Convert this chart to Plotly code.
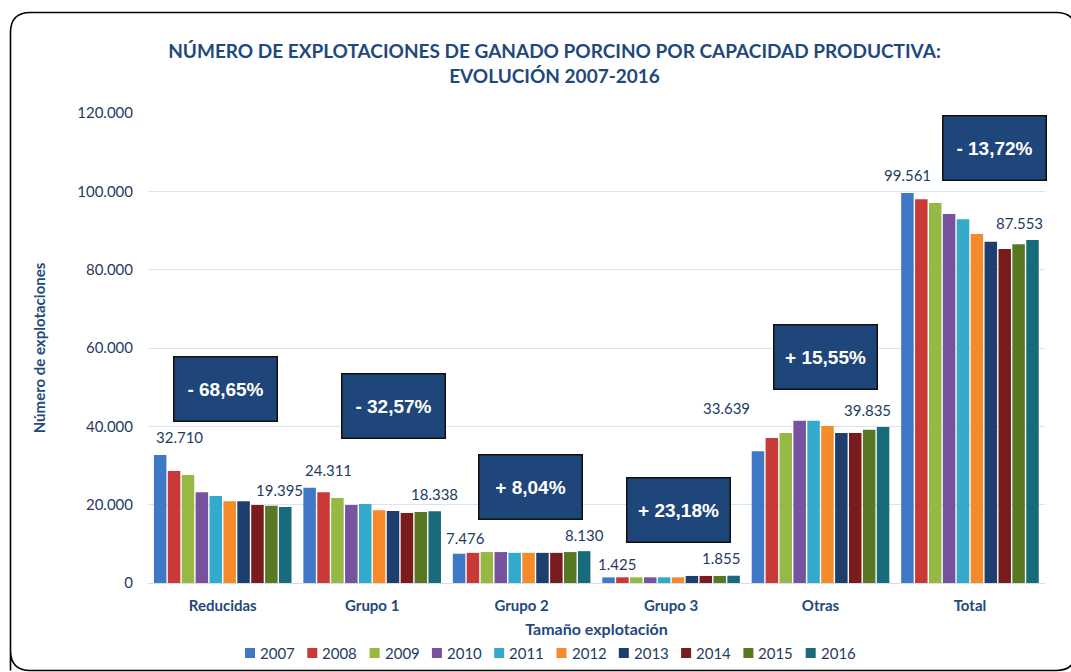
import plotly.graph_objects as go

categories = ["Reducidas", "Grupo 1", "Grupo 2", "Grupo 3", "Otras", "Total"]
years = ["2007", "2008", "2009", "2010", "2011", "2012", "2013", "2014", "2015", "2016"]

# values per year, in category order
v2007 = [32710, 24311, 7476, 1425, 33639, 99561]
v2008 = [28600, 23200, 7700, 1450, 37000, 98000]
v2009 = [27600, 21700, 7900, 1450, 38300, 97000]
v2010 = [23200, 19900, 7900, 1450, 41400, 94200]
v2011 = [22200, 20200, 7700, 1450, 41400, 92900]
v2012 = [20900, 18600, 7700, 1450, 40100, 89100]
v2013 = [20900, 18400, 7700, 1800, 38300, 87100]
v2014 = [19900, 17900, 7700, 1800, 38300, 85300]
v2015 = [19700, 18100, 7900, 1800, 39100, 86500]
v2016 = [19395, 18338, 8130, 1855, 39835, 87553]
series = [v2007, v2008, v2009, v2010, v2011, v2012, v2013, v2014, v2015, v2016]

changes = ["- 68,65%", "- 32,57%", "+ 8,04%", "+ 23,18%", "+ 15,55%", "- 13,72%"]

colors = ["#3E78C6", "#C93937", "#95B944", "#77539F", "#33AACB",
          "#F48A2A", "#1E3F6E", "#791C1D", "#587824", "#196B7B"]

TXT = "#1F3B63"
TITLE = "#1F497D"
FONT = "Lato"

L, R, T, B = 148, 1045, 113, 583
W, H = R - L, B - T


def px_x(px):
    return (px - L) / W


def px_y(py):
    return (B - py) / H


fig = go.Figure()
for y, vals, c in zip(years, series, colors):
    fig.add_trace(go.Bar(name=y, x=categories, y=vals, marker_color=c,
                         marker_line_width=0, showlegend=False))

bargap = 0.07
n = len(years)
slot = (1 - bargap) / n


def bar_x(gi, j):
    return gi - 0.5 + bargap / 2 + (j + 0.5) * slot


# first / last value labels (label pixel offsets relative to the bar)
first_off = [(19, 18), (19, 18), (6, 16), (8, 13), (-31, 43), (0, 18)]
last_off = [(-6, 17), (0, 17), (0, 16), (-13, 18), (-16, 17), (-13, 17)]
annotations = []
for gi in range(len(categories)):
    for j, off in ((0, first_off[gi]), (n - 1, last_off[gi])):
        v = series[j][gi]
        annotations.append(dict(
            x=bar_x(gi, j), y=v, xref="x", yref="y",
            text=f"{v:,}".replace(",", "."), showarrow=False,
            xshift=off[0], yshift=off[1],
            font=dict(family=FONT, size=15, color=TXT)))

box_centers = [(225, 389), (393, 406), (530, 487), (678, 510), (825, 357), (994, 148)]
for txt, (cx, cy) in zip(changes, box_centers):
    annotations.append(dict(
        x=px_x(cx), y=px_y(cy), xref="paper", yref="paper",
        text=f"<b>{txt}</b>", showarrow=False, xanchor="center", yanchor="middle",
        width=100, height=61, borderpad=1, borderwidth=1.5,
        bgcolor="#1F467A", bordercolor="#111111",
        font=dict(family="Liberation Sans", size=19, color="white")))

shapes = []
# manual legend
leg_x0, leg_step, leg_y = 245, 62.3, 653
for i, (y, c) in enumerate(zip(years, colors)):
    sx = leg_x0 + i * leg_step
    shapes.append(dict(type="rect", xref="paper", yref="paper",
                       x0=px_x(sx), x1=px_x(sx + 10), y0=px_y(leg_y + 5), y1=px_y(leg_y - 5),
                       fillcolor=c, line=dict(width=0)))
    annotations.append(dict(x=px_x(sx + 13), y=px_y(leg_y), xref="paper", yref="paper",
                            text=y, showarrow=False, xanchor="left", yanchor="middle",
                            font=dict(family=FONT, size=15, color=TXT)))

# outer rounded border
x0, y0, x1, y1 = px_x(10.5), px_y(12.5), px_x(1076), px_y(670.5)
rx, ry = 20 / W, 20 / H
path = (f"M {x0},{y1} L {x0},{y0 - ry} Q {x0},{y0} {x0 + rx},{y0} "
        f"L {x1 - rx},{y0} Q {x1},{y0} {x1},{y0 - ry} L {x1},{y1 + ry} "
        f"Q {x1},{y1} {x1 - rx},{y1} L {x0 + rx},{y1} Q {x0},{y1} {x0},{y1 + ry} Z")
shapes.append(dict(type="path", path=path, xref="paper", yref="paper",
                   line=dict(color="black", width=1.6), layer="above"))

fig.update_layout(
    width=1071, height=672,
    margin=dict(l=L, r=1071 - R, t=T, b=672 - B, autoexpand=False),
    paper_bgcolor="white", plot_bgcolor="white",
    separators=",.",
    barmode="group", bargap=bargap, bargroupgap=0.1,
    font=dict(family=FONT, color=TXT),
    showlegend=False,
    title=dict(text="<b>NÚMERO DE EXPLOTACIONES DE GANADO PORCINO POR CAPACIDAD PRODUCTIVA:<br>EVOLUCIÓN 2007-2016</b>",
               x=554.5 / 1071, xanchor="center", y=1 - 58 / 672, yanchor="middle",
               font=dict(family=FONT, size=19, color=TITLE)),
    xaxis=dict(type="category", showgrid=False, showline=True, linecolor="#D5DFEC",
               linewidth=1, ticks="", tickfont=dict(family=FONT, size=15, color=TITLE),
               ticklabelstandoff=9,
               tickvals=categories, ticktext=[f"<b>{c}</b>" for c in categories],
               title=dict(text="<b>Tamaño explotación</b>", standoff=10,
                          font=dict(family=FONT, size=16, color=TITLE))),
    yaxis=dict(range=[0, 120000], dtick=20000, tickformat=",d", showgrid=True,
               gridcolor="#D9E4F2", gridwidth=1, zeroline=False, ticks="",
               ticklabelstandoff=14, tickfont=dict(family=FONT, size=15, color=TXT),
               title=dict(text="<b>Número de explotaciones</b>", standoff=28,
                          font=dict(family=FONT, size=15, color=TITLE))),
    annotations=annotations,
    shapes=shapes,
)

fig.write_html("out.html", config={"displayModeBar": False},
               post_script="document.body.style.margin='0';document.body.style.padding='0';")
